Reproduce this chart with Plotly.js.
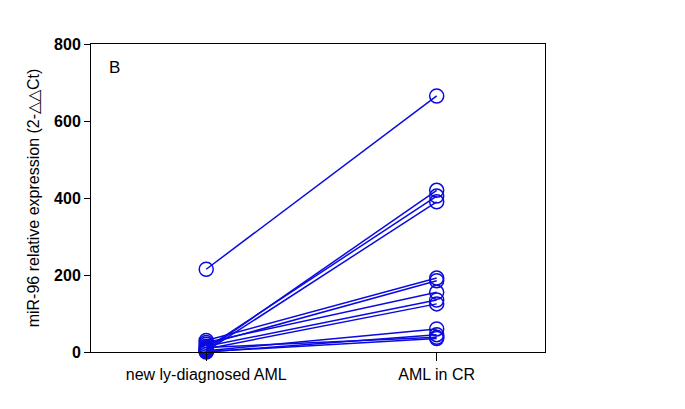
<!DOCTYPE html>
<html>
<head>
<meta charset="utf-8">
<script src="https://cdn.plot.ly/plotly-3.0.1.min.js"></script>
<style>html,body{margin:0;padding:0;background:#fff;}#chart{width:685px;height:409px;}</style>
</head>
<body>
<div id="chart"></div>
<script>
var groups = ["new ly-diagnosed AML", "AML in CR"];
var newlyDiagnosed = [215, 5, 10, 2, 30, 20, 25, 15, 8, 3, 0, 12, 1];
var amlInCR = [665, 420, 405, 390, 192, 185, 155, 135, 125, 60, 45, 38, 35];
var yTicks = [0, 200, 400, 600, 800];

var traces = newlyDiagnosed.map(function(v, i) {
  return {
    type: "scatter",
    mode: "lines+markers",
    x: groups,
    y: [v, amlInCR[i]],
    line: {color: "#0a0ae0", width: 1.5},
    marker: {symbol: "circle-open", size: 14, color: "#0a0ae0", line: {width: 1.5, color: "#0a0ae0"}},
    showlegend: false,
    cliponaxis: false,
    hoverinfo: "skip"
  };
});

var layout = {
  width: 685, height: 409,
  margin: {l: 91, r: 140, t: 44, b: 57},
  paper_bgcolor: "#fff", plot_bgcolor: "#fff",
  font: {family: "Arial, Liberation Sans, sans-serif", color: "#000"},
  xaxis: {
    type: "category",
    range: [-0.5, 1.47],
    showgrid: false, zeroline: false,
    showline: true, linecolor: "#000", linewidth: 1, mirror: true,
    ticks: "outside", ticklen: 8, tickcolor: "#000",
    tickfont: {size: 16, family: "Arial, Liberation Sans, sans-serif"}
  },
  yaxis: {
    range: [0, 800],
    tickvals: yTicks,
    showgrid: false, zeroline: false,
    showline: true, linecolor: "#000", linewidth: 1, mirror: true,
    ticks: "outside", ticklen: 6, tickcolor: "#000",
    tickfont: {size: 16, family: "Arial, Liberation Sans, sans-serif", weight: "bold"},
    title: {text: "miR-96 relative expression (2-△△Ct)", font: {size: 16}, standoff: 10}
  },
  annotations: [{
    text: "B", xref: "paper", yref: "paper", x: 0.035, y: 0.925,
    xanchor: "left", yanchor: "middle", showarrow: false,
    font: {size: 17, family: "Arial, Liberation Sans, sans-serif"}
  }]
};

Plotly.newPlot("chart", traces, layout, {displayModeBar: false, staticPlot: true});
</script>
</body>
</html>
